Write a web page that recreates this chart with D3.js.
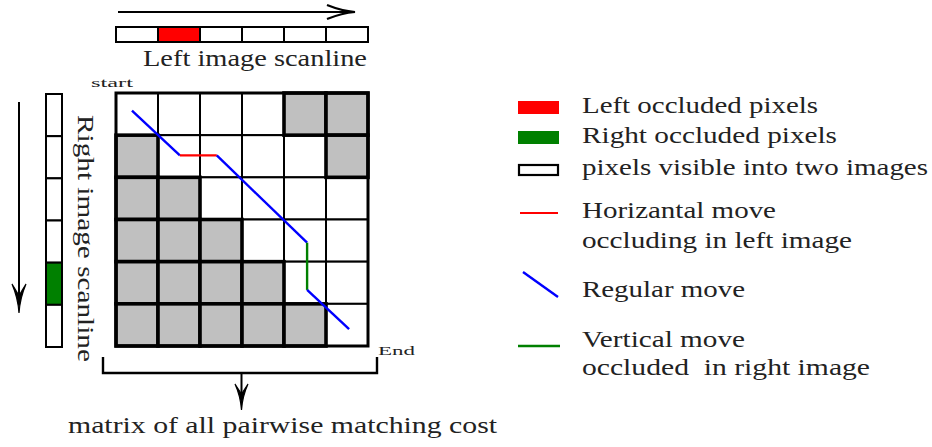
<!DOCTYPE html>
<html>
<head>
<meta charset="utf-8">
<script src="https://cdn.jsdelivr.net/npm/d3@7"></script>
<style>
  html, body { margin: 0; padding: 0; background: #fff; }
  svg { display: block; }
</style>
</head>
<body>
<svg id="chart" width="932" height="447"></svg>
<script>
// ---------- DATA ----------
const gridCols = [0, 1, 2, 3, 4, 5];
const gridRows = [0, 1, 2, 3, 4, 5];
// occluded (gray) cells of the cost matrix, as [col, row]
const grayCells = [
  [4, 0], [5, 0],
  [0, 1], [5, 1],
  [0, 2], [1, 2],
  [0, 3], [1, 3], [2, 3],
  [0, 4], [1, 4], [2, 4], [3, 4],
  [0, 5], [1, 5], [2, 5], [3, 5], [4, 5]
];
// pixel state of each scanline
const leftScanline  = ["visible", "leftOccluded", "visible", "visible", "visible", "visible"];
const rightScanline = ["visible", "visible", "visible", "visible", "rightOccluded", "visible"];
// matching path through the matrix (in cell units: [col, row])
const pathPoints = [[0.38, 0.42], [1.52, 1.48], [2.4, 1.48], [4.55, 3.55], [4.55, 4.67], [5.55, 5.6]];
const pathMoves  = ["regular", "horizontal", "regular", "vertical", "regular"];
// legend
const legendLabels = [
  ["Left occluded pixels"],
  ["Right occluded pixels"],
  ["pixels visible into two images"],
  ["Horizantal move", "occluding in left image"],
  ["Regular move"],
  ["Vertical move", "occluded  in right image"]
];
const legendKinds = ["leftOccluded", "rightOccluded", "visible", "horizontal", "regular", "vertical"];
const titles = {
  left: "Left image scanline",
  right: "Right image scanline",
  matrix: "matrix of all pairwise matching cost",
  start: "start",
  end: "End"
};

// ---------- STYLE / LAYOUT ----------
const FONT = "'Liberation Serif', 'Times New Roman', Times, 'DejaVu Serif', serif";
const TXT = "#222";
const colors = {
  leftOccluded: "#ff0000", rightOccluded: "#008000", visible: "#ffffff",
  horizontal: "#ff0000", regular: "#0000ff", vertical: "#008000", gray: "#c0c0c0"
};
const svg = d3.select("#chart");

function label(sel, t, size, len) {
  return sel.append("text").attr("font-family", FONT).attr("font-size", size).attr("fill", TXT)
    .attr("textLength", len).attr("lengthAdjust", "spacingAndGlyphs")
    .attr("xml:space", "preserve").style("white-space", "pre").text(t);
}

const x = d3.scaleBand().domain(gridCols).range([116, 368]);
const y = d3.scaleBand().domain(gridRows).range([93, 346]);
const xl = d3.scaleLinear().domain([0, 6]).range([116, 368]);
const yl = d3.scaleLinear().domain([0, 6]).range([93, 346]);

// ---------- top scanline ----------
const topScan = svg.append("g");
topScan.selectAll("rect").data(leftScanline).join("rect")
  .attr("x", (d, i) => x(i)).attr("y", 27)
  .attr("width", x.bandwidth()).attr("height", 15)
  .attr("fill", d => colors[d]).attr("stroke", "#000").attr("stroke-width", 2);

// top arrow
svg.append("line").attr("x1", 118).attr("x2", 352).attr("y1", 12).attr("y2", 12)
  .attr("stroke", "#000").attr("stroke-width", 2);
svg.append("path").attr("d", "M327,5 Q342,11 355,12 Q342,13 327,19")
  .attr("fill", "none").attr("stroke", "#000").attr("stroke-width", 2.2);

label(svg, titles.left, 23, 224).attr("x", 143).attr("y", 66);
label(svg, titles.start, 13, 42).attr("x", 91).attr("y", 87);

// ---------- left scanline ----------
const leftScan = svg.append("g");
leftScan.selectAll("rect").data(rightScanline).join("rect")
  .attr("x", 46).attr("y", (d, i) => y(i) + 1)
  .attr("width", 16).attr("height", y.bandwidth())
  .attr("fill", d => colors[d]).attr("stroke", "#000").attr("stroke-width", 2);

// left arrow
svg.append("line").attr("x1", 19).attr("x2", 19).attr("y1", 102).attr("y2", 300)
  .attr("stroke", "#000").attr("stroke-width", 2);
svg.append("path").attr("d", "M19,313 Q18,298 12,284 Q17,292 19,296 Q21,292 26,284 Q20,298 19,313 Z")
  .attr("fill", "#000").attr("stroke", "#000").attr("stroke-width", 1.2);

label(svg, titles.right, 23, 247).attr("transform", "translate(78,115) rotate(90)");

// ---------- matrix ----------
const cells = [];
gridRows.forEach(r => gridCols.forEach(c => cells.push([c, r])));
const grayKey = new Set(grayCells.map(d => d.join(",")));
const mat = svg.append("g");
mat.selectAll("rect.w").data(cells.filter(d => !grayKey.has(d.join(",")))).join("rect")
  .attr("class", "w")
  .attr("x", d => x(d[0])).attr("y", d => y(d[1]))
  .attr("width", x.bandwidth()).attr("height", y.bandwidth())
  .attr("fill", "#fff").attr("stroke", "#000").attr("stroke-width", 2);
mat.selectAll("rect.g").data(grayCells).join("rect")
  .attr("class", "g")
  .attr("x", d => x(d[0])).attr("y", d => y(d[1]))
  .attr("width", x.bandwidth()).attr("height", y.bandwidth())
  .attr("fill", colors.gray).attr("stroke", "#000").attr("stroke-width", 3.6);
mat.append("rect").attr("x", 116).attr("y", 93).attr("width", 252).attr("height", 253)
  .attr("fill", "none").attr("stroke", "#000").attr("stroke-width", 3);

// path
const segs = pathMoves.map((m, i) => ({ m, a: pathPoints[i], b: pathPoints[i + 1] }));
svg.append("g").selectAll("line").data(segs).join("line")
  .attr("x1", d => xl(d.a[0])).attr("y1", d => yl(d.a[1]))
  .attr("x2", d => xl(d.b[0])).attr("y2", d => yl(d.b[1]))
  .attr("stroke", d => colors[d.m]).attr("stroke-width", 2.4).attr("stroke-linecap", "butt");

label(svg, titles.end, 13, 37).attr("x", 378).attr("y", 355);

// ---------- brace + bottom arrow ----------
svg.append("path").attr("d", "M103,357 V373 H377 V357")
  .attr("fill", "none").attr("stroke", "#000").attr("stroke-width", 2.4);
svg.append("line").attr("x1", 241.5).attr("x2", 241.5).attr("y1", 373).attr("y2", 398)
  .attr("stroke", "#000").attr("stroke-width", 2);
svg.append("path").attr("d", "M241.5,410 Q240.5,396 235,384 Q239.5,391 241.5,394 Q243.5,391 248,384 Q242.5,396 241.5,410 Z")
  .attr("fill", "#000").attr("stroke", "#000").attr("stroke-width", 1.2);

label(svg, titles.matrix, 23, 429).attr("x", 68).attr("y", 433);

// ---------- legend ----------
const legendY = [[113], [143], [175], [218, 248], [297], [347, 375]];
const legendW = [[236], [255], [346], [194, 270], [163], [163, 288]];
const leg = svg.append("g");
legendKinds.forEach((k, i) => {
  const g = leg.append("g");
  if (k === "leftOccluded" || k === "rightOccluded") {
    g.append("rect").attr("x", 518).attr("y", legendY[i][0] - 12).attr("width", 41).attr("height", 13)
      .attr("fill", colors[k]);
  } else if (k === "visible") {
    g.append("rect").attr("x", 519).attr("y", 165).attr("width", 39).attr("height", 10)
      .attr("fill", "#fff").attr("stroke", "#000").attr("stroke-width", 2.2);
  } else if (k === "horizontal") {
    g.append("line").attr("x1", 520).attr("x2", 558).attr("y1", 213).attr("y2", 213)
      .attr("stroke", colors[k]).attr("stroke-width", 2);
  } else if (k === "regular") {
    g.append("line").attr("x1", 523).attr("x2", 558).attr("y1", 272).attr("y2", 297)
      .attr("stroke", colors[k]).attr("stroke-width", 2.4);
  } else if (k === "vertical") {
    g.append("line").attr("x1", 518).attr("x2", 560).attr("y1", 346).attr("y2", 346)
      .attr("stroke", colors[k]).attr("stroke-width", 2.4);
  }
  legendLabels[i].forEach((t, j) => {
    label(g, t, 23, legendW[i][j]).attr("x", 582).attr("y", legendY[i][j]);
  });
});
</script>
</body>
</html>
